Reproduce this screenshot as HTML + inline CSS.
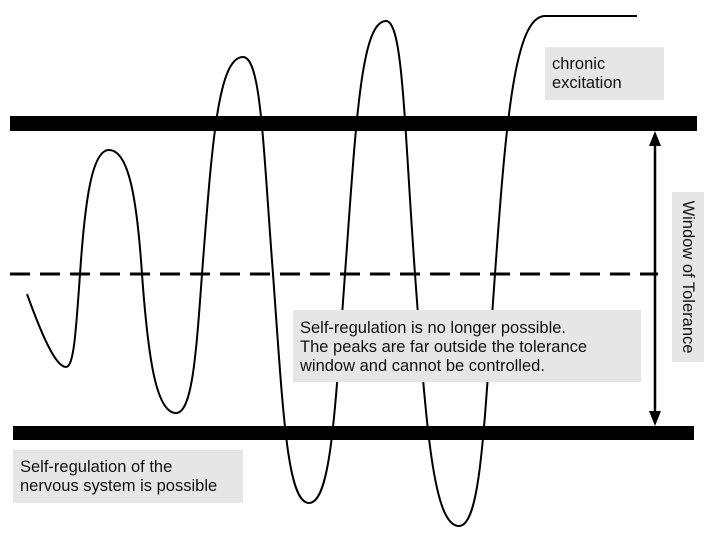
<!DOCTYPE html>
<html><head><style>
body{margin:0;background:#fff;width:709px;height:535px;overflow:hidden;position:relative;font-family:"Liberation Sans",sans-serif;}
.box{position:absolute;background:#e6e6e6;color:#111;font-size:16.5px;line-height:19px;box-sizing:border-box;letter-spacing:0px;white-space:nowrap;}
</style></head><body>
<svg width="709" height="535" style="position:absolute;left:0;top:0">
<rect x="10" y="116" width="687" height="15" fill="#000"/>
<rect x="13" y="426" width="681" height="14" fill="#000"/>
<line x1="10" y1="274" x2="658" y2="274" stroke="#000" stroke-width="3" stroke-dasharray="20,10"/>
<line x1="655" y1="140" x2="655" y2="417" stroke="#000" stroke-width="2.5"/>
<polygon points="655,131 649,146 661,146" fill="#000"/>
<polygon points="655,426 649,411 661,411" fill="#000"/>
<path d="M27,294 C40,330 55,367 66,367 C74,367 76,330 80,274 C85,200 92,150 109,150 C129,150 137,200 142,274 C148,357 156,413 176,413 C192,413 196,357 202,274 C212,144 218,57 243,57 C261,57 263,144 273,274 C283,411 287,503 309,503 C331,503 335,411 345,274 C356,122 361,21 386,21 C403,21 404,122 415,274 C426,425 433,526 459,526 C481,526 484,425 495,274 C506,119 515,16 545,16 L637,16" fill="none" stroke="#000" stroke-width="2"/>
</svg>
<div class="box" style="left:545px;top:47px;width:119px;height:53px;padding:8px 0 0 7px">chronic<br>excitation</div>
<div class="box" style="left:293px;top:310px;width:348px;height:72px;padding:9px 0 0 7px">Self-regulation is no longer possible.<br>The peaks are far outside the tolerance<br>window and cannot be controlled.</div>
<div class="box" style="left:13px;top:450px;width:230px;height:53px;padding:8px 0 0 7px">Self-regulation of the<br>nervous system is possible</div>
<div class="box" style="left:672px;top:192px;width:32px;height:170px;"><div style="position:absolute;left:32px;top:0;transform-origin:0 0;transform:rotate(90deg);width:170px;text-align:center;line-height:32px;font-size:16.5px">Window of Tolerance</div></div>
</body></html>
